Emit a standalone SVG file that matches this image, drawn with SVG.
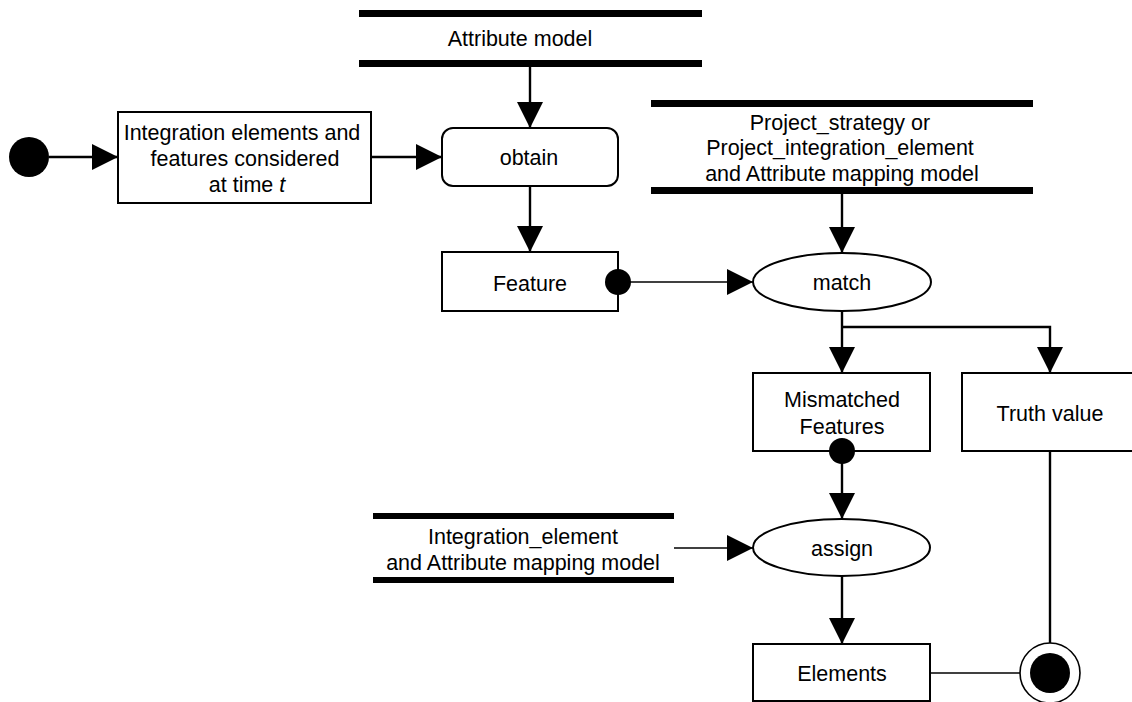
<svg xmlns="http://www.w3.org/2000/svg" width="1132" height="702" viewBox="0 0 1132 702">
<style>
text{font-family:"Liberation Sans",Arial,sans-serif;font-size:21.5px;fill:#000;text-anchor:middle}
.box{fill:#fff;stroke:#000;stroke-width:2}
.bar{fill:#000}
.c{fill:none;stroke:#000;stroke-width:2.4}
.t{fill:none;stroke:#000;stroke-width:1.6}
</style>
<defs>
<marker id="ah" viewBox="0 0 26 26" markerWidth="26" markerHeight="26" markerUnits="userSpaceOnUse" refX="26" refY="13" orient="auto">
<path d="M0,0 L26,13 L0,26 Z" fill="#000"/>
</marker>
</defs>
<rect width="1132" height="702" fill="#fff"/>

<g id="connectors">
<line class="c" x1="49" y1="157" x2="118" y2="157" marker-end="url(#ah)"/>
<line class="c" x1="371" y1="157" x2="442" y2="157" marker-end="url(#ah)"/>
<line class="c" x1="530" y1="67" x2="530" y2="128" marker-end="url(#ah)"/>
<line class="c" x1="530" y1="186" x2="530" y2="252" marker-end="url(#ah)"/>
<line class="t" x1="618" y1="282" x2="753" y2="282" marker-end="url(#ah)"/>
<line class="c" x1="842" y1="194" x2="842" y2="253" marker-end="url(#ah)"/>
<line class="c" x1="842" y1="311" x2="842" y2="373" marker-end="url(#ah)"/>
<polyline class="c" points="842,327 1050,327 1050,373" marker-end="url(#ah)"/>
<line class="c" x1="842" y1="451" x2="842" y2="519" marker-end="url(#ah)"/>
<line class="t" x1="674" y1="548" x2="753" y2="548" marker-end="url(#ah)"/>
<line class="c" x1="842" y1="576" x2="842" y2="644" marker-end="url(#ah)"/>
<line class="c" x1="1050" y1="451" x2="1050" y2="643"/>
<line class="t" x1="930" y1="673" x2="1020" y2="673"/>
</g>

<g id="start">
<circle cx="29" cy="157" r="20" fill="#000"/>
</g>

<g id="integration-elements">
<rect class="box" x="118" y="112" width="253" height="91"/>
<text x="242" y="140">Integration elements and</text>
<text x="245" y="166">features considered</text>
<text x="247" y="192">at time <tspan font-style="italic">t</tspan></text>
</g>

<g id="attribute-model">
<rect class="bar" x="359" y="10" width="343" height="7"/>
<rect class="bar" x="359" y="60" width="343" height="7"/>
<text x="520" y="46">Attribute model</text>
</g>

<g id="obtain">
<rect class="box" x="442" y="128" width="176" height="58" rx="11" ry="11"/>
<text x="529" y="165">obtain</text>
</g>

<g id="feature">
<rect class="box" x="442" y="252" width="176" height="59"/>
<text x="530" y="291">Feature</text>
<circle cx="618" cy="282" r="13" fill="#000"/>
</g>

<g id="project-strategy">
<rect class="bar" x="651" y="100" width="382" height="7"/>
<rect class="bar" x="651" y="187" width="382" height="7"/>
<text x="840" y="130">Project_strategy or</text>
<text x="840" y="155">Project_integration_element</text>
<text x="842" y="181">and Attribute mapping model</text>
</g>

<g id="match">
<ellipse class="box" cx="842" cy="282" rx="89" ry="29"/>
<text x="842" y="290">match</text>
</g>

<g id="mismatched-features">
<rect class="box" x="753" y="373" width="177" height="78"/>
<text x="842" y="407">Mismatched</text>
<text x="842" y="434">Features</text>
<circle cx="842" cy="451" r="13" fill="#000"/>
</g>

<g id="truth-value">
<rect class="box" x="962" y="373" width="180" height="78"/>
<text x="1050" y="421">Truth value</text>
</g>

<g id="integration-element-model">
<rect class="bar" x="373" y="513" width="301" height="6"/>
<rect class="bar" x="373" y="577" width="301" height="6"/>
<text x="523" y="544">Integration_element</text>
<text x="523" y="570">and Attribute mapping model</text>
</g>

<g id="assign">
<ellipse class="box" cx="841.5" cy="547.5" rx="88.5" ry="28.5"/>
<text x="842" y="556">assign</text>
</g>

<g id="elements">
<rect class="box" x="753" y="644" width="177" height="57"/>
<text x="842" y="681">Elements</text>
</g>

<g id="final">
<circle cx="1050" cy="673" r="30" fill="#fff" stroke="#000" stroke-width="1.6"/>
<circle cx="1050" cy="673" r="20" fill="#000"/>
</g>
</svg>
